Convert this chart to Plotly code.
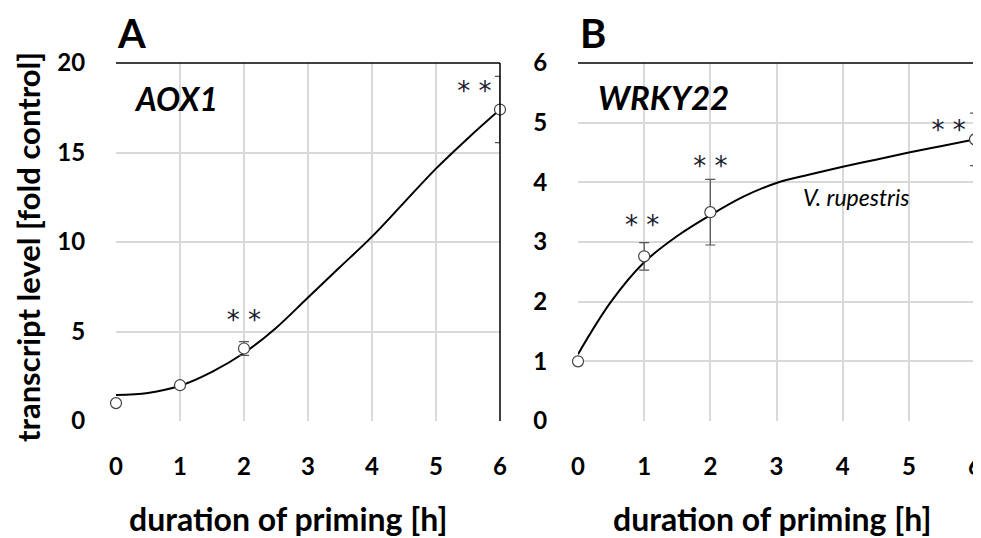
import plotly.graph_objects as go

# ---- data ----
hours = [0, 1, 2, 6]

aox1_mean = [1.0, 2.0, 4.05, 17.4]
aox1_err = [0.1, 0.1, 0.38, 1.85]
aox1_fit_x = [0, 0.5, 1, 1.5, 2, 2.5, 3, 3.5, 4, 4.5, 5, 5.5, 6]
aox1_fit_y = [1.45, 1.57, 1.97, 2.75, 3.8, 5.2, 6.9, 8.6, 10.3, 12.2, 14.1, 15.8, 17.4]
aox1_sig_x = [2, 5.6]
aox1_sig_y = [5.5, 18.3]

wrky22_mean = [1.0, 2.76, 3.5, 4.72]
wrky22_err = [0.05, 0.23, 0.55, 0.44]
wrky22_fit_x = [0, 0.5, 1, 1.5, 2, 2.5, 3, 3.5, 4, 4.5, 5, 5.5, 6]
wrky22_fit_y = [1.12, 2.0, 2.66, 3.1, 3.45, 3.76, 3.99, 4.13, 4.26, 4.38, 4.5, 4.61, 4.72]
wrky22_sig_x = [0.97, 2, 5.6]
wrky22_sig_y = [3.25, 4.24, 4.84]

x_ticks = [0, 1, 2, 3, 4, 5, 6]
a_yticks = [0, 5, 10, 15, 20]
b_yticks = [0, 1, 2, 3, 4, 5, 6]

FONT = "Lato"
OFF = 8  # page body margin
W, H = 981 - OFF, 538 - OFF

fig = go.Figure()

def add_panel(xa, ya, fx, fy, mean, err, sigx, sigy):
    fig.add_trace(go.Scatter(x=fx, y=fy, mode="lines", line=dict(color="black", width=2, shape="spline"),
                             xaxis=xa, yaxis=ya, showlegend=False, hoverinfo="skip", cliponaxis=False))
    fig.add_trace(go.Scatter(x=hours, y=mean, mode="markers",
                             marker=dict(size=11, color="white", line=dict(color="#444", width=1.2)),
                             error_y=dict(type="data", array=err, visible=True, color="#555", thickness=1.2, width=5),
                             xaxis=xa, yaxis=ya, showlegend=False, cliponaxis=False))
    fig.add_trace(go.Scatter(x=sigx, y=sigy, mode="text", text=["* *"] * len(sigx),
                             textfont=dict(family="DejaVu Sans", size=26, color="#1a1a2e"),
                             xaxis=xa, yaxis=ya, showlegend=False, hoverinfo="skip", cliponaxis=False))

add_panel("x", "y", aox1_fit_x, aox1_fit_y, aox1_mean, aox1_err, aox1_sig_x, aox1_sig_y)
add_panel("x2", "y2", wrky22_fit_x, wrky22_fit_y, wrky22_mean, wrky22_err, wrky22_sig_x, wrky22_sig_y)

def px_x(p):
    return (p - OFF) / W

def px_y(p):
    return 1 - (p - OFF) / H

ydom = [px_y(421), px_y(63)]
axis_common = dict(showgrid=True, gridcolor="#d9d9d9", gridwidth=1.5, zeroline=False, showline=False,
                   ticks="outside", tickcolor="rgba(0,0,0,0)", automargin=False,
                   ticklabeloverflow="allow",
                   tickfont=dict(family=FONT, size=24, color="black", weight="bold"))

fig.update_layout(
    width=W, height=H, margin=dict(l=0, r=0, t=0, b=0),
    paper_bgcolor="white", plot_bgcolor="white",
    xaxis=dict(domain=[px_x(116), px_x(500)], range=[0, 6], tickvals=x_ticks, anchor="y",
               ticklen=24, **axis_common),
    yaxis=dict(domain=ydom, range=[0, 20], tickvals=a_yticks, anchor="x",
               ticklen=25, **axis_common),
    xaxis2=dict(domain=[px_x(578), px_x(975)], range=[0, 6], tickvals=x_ticks, anchor="y2",
                ticklen=24, **axis_common),
    yaxis2=dict(domain=ydom, range=[0, 6], tickvals=b_yticks, anchor="x2",
                ticklen=25, **axis_common),
)

# black top and right frame lines
for xa, ya in [("x", "y"), ("x2", "y2")]:
    fig.add_shape(type="line", xref=f"{xa} domain", yref=f"{ya} domain", x0=0, x1=1, y0=1, y1=1,
                  line=dict(color="black", width=1.5))
    fig.add_shape(type="line", xref=f"{xa} domain", yref=f"{ya} domain", x0=1, x1=1, y0=0, y1=1,
                  line=dict(color="black", width=1.5))

ann = []
ann.append(dict(text="<b>A</b>", x=px_x(115), y=px_y(33), xref="paper", yref="paper", xanchor="left", yanchor="middle",
                showarrow=False, font=dict(family=FONT, size=40, color="black")))
ann.append(dict(text="<b>B</b>", x=px_x(578), y=px_y(33), xref="paper", yref="paper", xanchor="left", yanchor="middle",
                showarrow=False, font=dict(family=FONT, size=40, color="black")))
ann.append(dict(text="<b><i>AOX1</i></b>", x=0.25, y=18.0, xref="x", yref="y", xanchor="left", yanchor="middle",
                showarrow=False, font=dict(family=FONT, size=32, color="black")))
ann.append(dict(text="<b><i>WRKY22</i></b>", x=0.27, y=5.43, xref="x2", yref="y2", xanchor="left", yanchor="middle",
                showarrow=False, font=dict(family=FONT, size=33, color="black")))
ann.append(dict(text="<i>V. rupestris</i>", x=4.2, y=3.75, xref="x2", yref="y2", xanchor="center", yanchor="middle",
                showarrow=False, font=dict(family=FONT, size=23, color="black")))
ann.append(dict(text="<b>transcript level [fold control]</b>", x=px_x(28), y=px_y(247), xref="paper", yref="paper",
                xanchor="center", yanchor="middle", textangle=-90, showarrow=False,
                font=dict(family=FONT, size=31, color="black")))
ann.append(dict(text="<b>duration of priming [h]</b>", x=px_x(288), y=px_y(518), xref="paper", yref="paper",
                xanchor="center", yanchor="middle", showarrow=False, font=dict(family=FONT, size=32, color="black")))
ann.append(dict(text="<b>duration of priming [h]</b>", x=px_x(772), y=px_y(518), xref="paper", yref="paper",
                xanchor="center", yanchor="middle", showarrow=False, font=dict(family=FONT, size=32, color="black")))
fig.update_layout(annotations=ann)

fig.write_html("out.html")
